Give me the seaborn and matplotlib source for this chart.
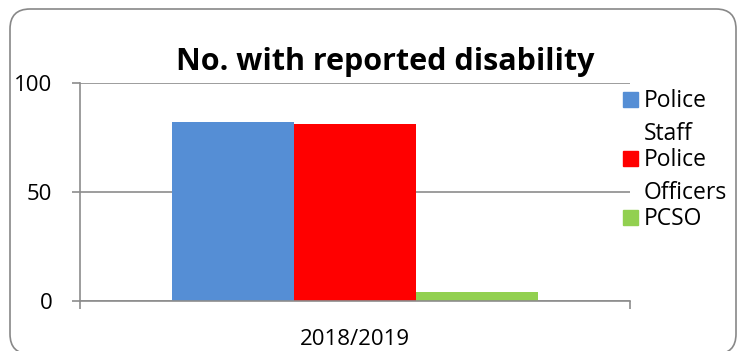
import matplotlib
matplotlib.use("Agg")
import matplotlib.pyplot as plt
from matplotlib.patches import FancyBboxPatch, Rectangle
import seaborn as sns
import pandas as pd

categories = ["2018/2019"]
groups = ["Police Staff", "Police Officers", "PCSO"]
legend_lines = [["Police", "Staff"], ["Police", "Officers"], ["PCSO"]]
values = [82, 81, 4]
colors = ["#558ED5", "#FF0000", "#92D050"]
yticks = [0, 50, 100]
title = "No. with reported disability"

sns.set_theme(style="white")
plt.rcParams["font.family"] = ["Open Sans", "DejaVu Sans"]

W, H = 737, 351
fig = plt.figure(figsize=(W / 100, H / 100), dpi=100)
ax = fig.add_axes([80 / W, 1 - 301 / H, 550 / W, 218 / H])

df = pd.DataFrame({"year": categories * len(groups), "group": groups, "value": values})
sns.barplot(data=df, x="year", y="value", hue="group", palette=colors, width=0.667,
            saturation=1, gap=0, legend=False, ax=ax, errorbar=None, linewidth=0)

grid_c = "#8C8C8C"
ax.set_ylim(0, 100)
ax.set_xlim(-0.5, 0.5)
ax.set_yticks(yticks)
ax.set_yticklabels([str(t) for t in yticks], fontsize=16, color="#000000")
ax.yaxis.grid(True, color=grid_c, linewidth=1.2)
ax.set_axisbelow(True)
for s in ["top", "right"]:
    ax.spines[s].set_visible(False)
for s in ["left", "bottom"]:
    ax.spines[s].set_color(grid_c)
    ax.spines[s].set_linewidth(1.2)
ax.tick_params(axis="y", left=True, length=6, width=1.2, color=grid_c, pad=14)
ax.set_xticks([0])
ax.set_xticklabels(categories, fontsize=16, color="#000000")
ax.tick_params(axis="x", which="major", length=0, pad=20)
ax.set_xticks([-0.5, 0.5], minor=True)
ax.tick_params(axis="x", which="minor", bottom=True, length=6, width=1.2, color=grid_c)
ax.set_xlabel("")
ax.set_ylabel("")

fig.text(385 / W, 1 - 70 / H, title, ha="center", va="baseline",
         fontsize=22, fontweight="bold", color="#000000")

# legend
y0 = 107
for i, (lines, c) in enumerate(zip(legend_lines, colors)):
    base = y0 + i * 59
    fig.patches.append(Rectangle((623 / W, 1 - base / H), 15 / W, 15 / H,
                                 transform=fig.transFigure, color=c, figure=fig))
    for j, ln in enumerate(lines):
        fig.text(644 / W, 1 - (base + j * 33) / H, ln, ha="left", va="baseline",
                 fontsize=16.5, color="#000000")

fig.patches.append(FancyBboxPatch((0.10, -0.03), 7.26, 3.45,
                                  boxstyle="round,pad=0,rounding_size=0.2",
                                  transform=fig.dpi_scale_trans, facecolor="none",
                                  edgecolor="#888888", linewidth=1.2, figure=fig))

fig.savefig("out.png", dpi=100)
